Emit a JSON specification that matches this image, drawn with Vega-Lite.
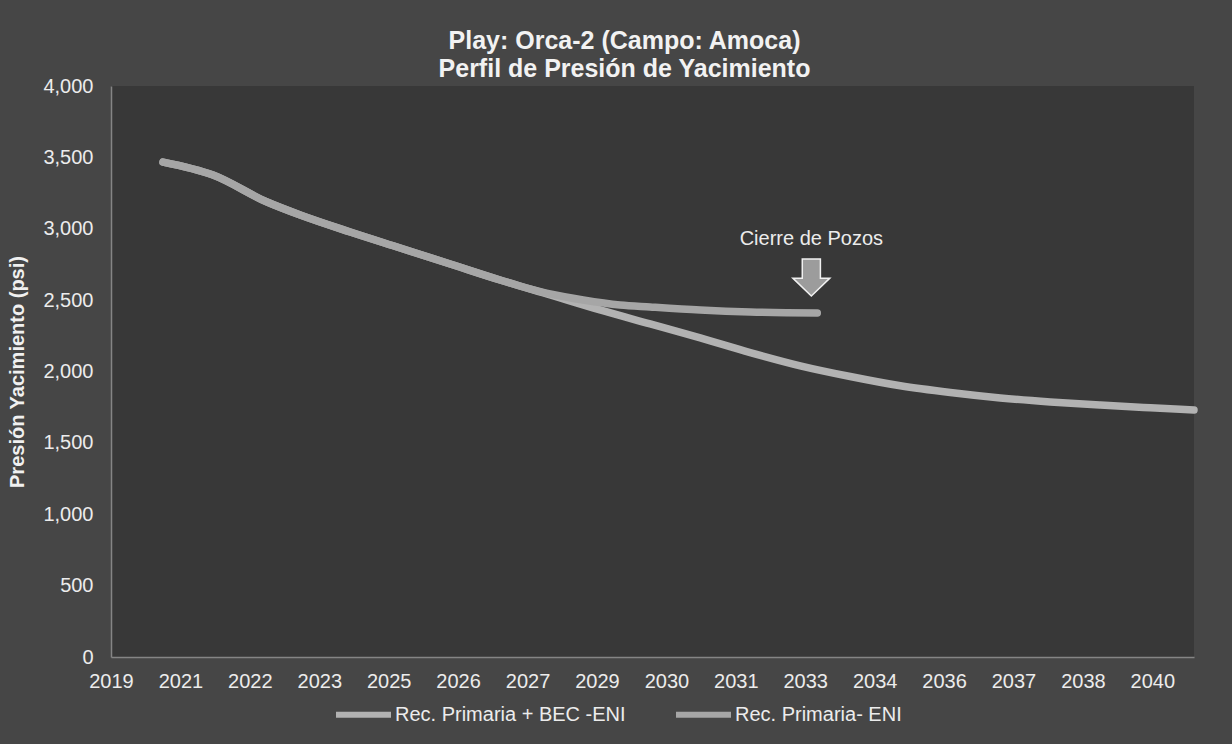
{
  "$schema": "https://vega.github.io/schema/vega-lite/v6.json",
  "autosize": {"type": "none"},
  "width": 1083,
  "height": 571,
  "padding": {"left": 111, "top": 86, "right": 38, "bottom": 87},
  "background": "#464646",
  "config": {
    "font": "Liberation Sans",
    "view": {"fill": "#383838", "stroke": null}
  },
  "title": {
    "text": ["Play: Orca-2 (Campo: Amoca)", "Perfil de Presión de Yacimiento"],
    "fontSize": 25,
    "fontWeight": "bold",
    "color": "#f2f2f2",
    "anchor": "middle",
    "dx": -28,
    "offset": -6,
    "lineHeight": 28
  },
  "datasets": {
    "pressure": [
      {"date": "2020-09-01", "pressure": 3467, "series": "Rec. Primaria + BEC -ENI"},
      {"date": "2021-08-27", "pressure": 3376, "series": "Rec. Primaria + BEC -ENI"},
      {"date": "2022-09-20", "pressure": 3187, "series": "Rec. Primaria + BEC -ENI"},
      {"date": "2023-05-17", "pressure": 3096, "series": "Rec. Primaria + BEC -ENI"},
      {"date": "2024-05-11", "pressure": 2977, "series": "Rec. Primaria + BEC -ENI"},
      {"date": "2025-05-06", "pressure": 2865, "series": "Rec. Primaria + BEC -ENI"},
      {"date": "2026-05-01", "pressure": 2753, "series": "Rec. Primaria + BEC -ENI"},
      {"date": "2027-04-25", "pressure": 2641, "series": "Rec. Primaria + BEC -ENI"},
      {"date": "2028-04-20", "pressure": 2536, "series": "Rec. Primaria + BEC -ENI"},
      {"date": "2029-04-14", "pressure": 2431, "series": "Rec. Primaria + BEC -ENI"},
      {"date": "2030-04-10", "pressure": 2333, "series": "Rec. Primaria + BEC -ENI"},
      {"date": "2031-04-06", "pressure": 2235, "series": "Rec. Primaria + BEC -ENI"},
      {"date": "2032-03-31", "pressure": 2133, "series": "Rec. Primaria + BEC -ENI"},
      {"date": "2033-03-26", "pressure": 2040, "series": "Rec. Primaria + BEC -ENI"},
      {"date": "2034-03-21", "pressure": 1965, "series": "Rec. Primaria + BEC -ENI"},
      {"date": "2035-03-17", "pressure": 1900, "series": "Rec. Primaria + BEC -ENI"},
      {"date": "2036-03-11", "pressure": 1853, "series": "Rec. Primaria + BEC -ENI"},
      {"date": "2037-03-06", "pressure": 1815, "series": "Rec. Primaria + BEC -ENI"},
      {"date": "2038-03-01", "pressure": 1787, "series": "Rec. Primaria + BEC -ENI"},
      {"date": "2039-02-25", "pressure": 1765, "series": "Rec. Primaria + BEC -ENI"},
      {"date": "2040-02-20", "pressure": 1746, "series": "Rec. Primaria + BEC -ENI"},
      {"date": "2040-12-30", "pressure": 1730, "series": "Rec. Primaria + BEC -ENI"},
      {"date": "2020-09-01", "pressure": 3467, "series": "Rec. Primaria- ENI"},
      {"date": "2021-08-27", "pressure": 3376, "series": "Rec. Primaria- ENI"},
      {"date": "2022-09-20", "pressure": 3187, "series": "Rec. Primaria- ENI"},
      {"date": "2023-05-17", "pressure": 3096, "series": "Rec. Primaria- ENI"},
      {"date": "2024-05-11", "pressure": 2977, "series": "Rec. Primaria- ENI"},
      {"date": "2025-05-06", "pressure": 2865, "series": "Rec. Primaria- ENI"},
      {"date": "2026-05-01", "pressure": 2753, "series": "Rec. Primaria- ENI"},
      {"date": "2027-04-25", "pressure": 2641, "series": "Rec. Primaria- ENI"},
      {"date": "2028-04-20", "pressure": 2543, "series": "Rec. Primaria- ENI"},
      {"date": "2028-12-14", "pressure": 2501, "series": "Rec. Primaria- ENI"},
      {"date": "2029-09-05", "pressure": 2466, "series": "Rec. Primaria- ENI"},
      {"date": "2030-04-10", "pressure": 2452, "series": "Rec. Primaria- ENI"},
      {"date": "2031-04-06", "pressure": 2431, "series": "Rec. Primaria- ENI"},
      {"date": "2032-03-31", "pressure": 2417, "series": "Rec. Primaria- ENI"},
      {"date": "2033-07-27", "pressure": 2410, "series": "Rec. Primaria- ENI"}
    ],
    "annotation": [
      {"date": "2033-06-14", "pressure": 2658, "label": "Cierre de Pozos", "labelPressure": 2928}
    ]
  },
  "layer": [
    {
      "data": {"name": "pressure"},
      "mark": {"type": "line", "strokeWidth": 7.5, "strokeCap": "round", "strokeJoin": "round", "interpolate": "monotone"},
      "encoding": {
        "x": {
          "field": "date",
          "type": "temporal",
          "scale": {
            "type": "utc",
            "domain": [
              {"year": 2019, "month": 8, "date": 23, "utc": true},
              {"year": 2040, "month": 12, "date": 30, "utc": true}
            ]
          },
          "axis": {
            "title": null,
            "format": "%Y",
            "values": [
              {"year": 2019, "month": 8, "date": 23, "utc": true},
              {"year": 2021, "month": 1, "date": 4, "utc": true},
              {"year": 2022, "month": 5, "date": 19, "utc": true},
              {"year": 2023, "month": 10, "date": 1, "utc": true},
              {"year": 2025, "month": 2, "date": 12, "utc": true},
              {"year": 2026, "month": 6, "date": 27, "utc": true},
              {"year": 2027, "month": 11, "date": 9, "utc": true},
              {"year": 2029, "month": 3, "date": 23, "utc": true},
              {"year": 2030, "month": 8, "date": 5, "utc": true},
              {"year": 2031, "month": 12, "date": 18, "utc": true},
              {"year": 2033, "month": 5, "date": 1, "utc": true},
              {"year": 2034, "month": 9, "date": 13, "utc": true},
              {"year": 2036, "month": 1, "date": 26, "utc": true},
              {"year": 2037, "month": 6, "date": 9, "utc": true},
              {"year": 2038, "month": 10, "date": 22, "utc": true},
              {"year": 2040, "month": 3, "date": 5, "utc": true}
            ],
            "grid": false,
            "ticks": false,
            "domainColor": "#858585",
            "domainWidth": 1.5,
            "labelColor": "#ececec",
            "labelFontSize": 20,
            "labelPadding": 14,
            "labelOverlap": false,
            "labelFlush": false
          }
        },
        "y": {
          "field": "pressure",
          "type": "quantitative",
          "scale": {"domain": [0, 4000], "nice": false},
          "axis": {
            "title": "Presión Yacimiento (psi)",
            "titleFontSize": 20,
            "titleFontWeight": "bold",
            "titleColor": "#f0f0f0",
            "titlePadding": 15,
            "values": [0, 500, 1000, 1500, 2000, 2500, 3000, 3500, 4000],
            "format": ",.0f",
            "grid": false,
            "ticks": false,
            "domainColor": "#858585",
            "domainWidth": 1.5,
            "labelColor": "#ececec",
            "labelFontSize": 20,
            "labelPadding": 18
          }
        },
        "color": {
          "field": "series",
          "type": "nominal",
          "scale": {
            "domain": ["Rec. Primaria + BEC -ENI", "Rec. Primaria- ENI"],
            "range": ["#b2b2b2", "#a6a6a6"]
          },
          "legend": {
            "title": null,
            "orient": "none",
            "direction": "horizontal",
            "legendX": 222,
            "legendY": 598,
            "symbolType": "stroke",
            "symbolSize": 3025,
            "symbolStrokeWidth": 6,
            "labelFontSize": 20,
            "labelLimit": 500,
            "labelColor": "#ececec",
            "labelOffset": 1,
            "columnPadding": 38
          }
        }
      }
    },
    {
      "data": {"name": "annotation"},
      "mark": {
        "type": "point",
        "shape": "M -0.49 -1 L 0.49 -1 L 0.49 0.03 L 1 0.03 L 0 1 L -1 0.03 L -0.49 0.03 Z",
        "size": 1369,
        "filled": true,
        "fill": "#9c9c9c",
        "stroke": "#f0f0f0",
        "strokeWidth": 1.5,
        "opacity": 1
      },
      "encoding": {
        "x": {"field": "date", "type": "temporal"},
        "y": {"field": "pressure", "type": "quantitative"}
      }
    },
    {
      "data": {"name": "annotation"},
      "mark": {"type": "text", "fontSize": 20, "color": "#ececec", "baseline": "middle", "align": "center"},
      "encoding": {
        "x": {"field": "date", "type": "temporal"},
        "y": {"field": "labelPressure", "type": "quantitative"},
        "text": {"field": "label"}
      }
    }
  ]
}
